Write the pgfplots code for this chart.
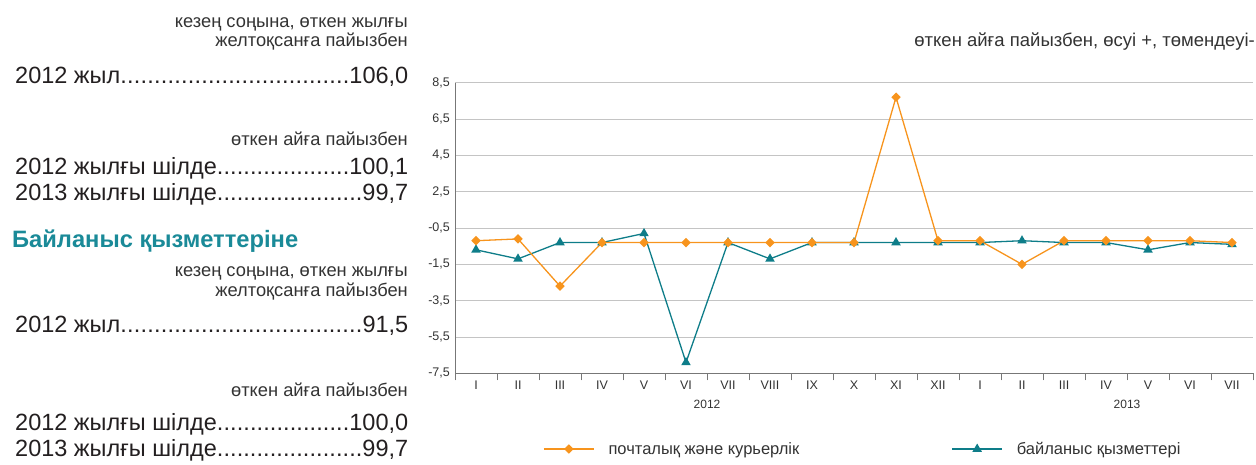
\documentclass[border=0pt]{standalone}
\usepackage{pgfplots}
\pgfplotsset{compat=1.18}
\usepackage{fontspec}
\setmainfont{Liberation Sans}
\definecolor{orng}{HTML}{F7941D}
\definecolor{tealc}{HTML}{0E7D89}
\definecolor{head}{HTML}{1A8A98}
\definecolor{txt}{HTML}{231F20}
\definecolor{txt2}{HTML}{333333}
\definecolor{axgray}{HTML}{777777}
\definecolor{gridgray}{HTML}{C4C4C4}
\newcommand{\fs}[1]{\fontsize{#1}{#1}\selectfont}
\newcommand{\dotline}[2]{\makebox[393pt][l]{#1\xleaders\hbox to 0.28em{\hss.\hss}\hfill#2}}
\begin{document}
\begin{tikzpicture}
\path[use as bounding box] (0,0) rectangle (1256pt,-464pt);
% left panel
\node[anchor=base east, font=\fs{18.3}, text=txt2, inner sep=0pt] at (408pt,-27.7pt) {кезең соңына, өткен жылғы};
\node[anchor=base east, font=\fs{18.3}, text=txt2, inner sep=0pt] at (408pt,-46.7pt) {желтоқсанға пайызбен};
\node[anchor=base west, font=\fs{23.5}, text=txt, inner sep=0pt] at (15pt,-83pt) {\dotline{2012 жыл}{106,0}};
\node[anchor=base east, font=\fs{18.3}, text=txt2, inner sep=0pt] at (408pt,-145.7pt) {өткен айға пайызбен};
\node[anchor=base west, font=\fs{23.5}, text=txt, inner sep=0pt] at (15pt,-174pt) {\dotline{2012 жылғы шілде}{100,1}};
\node[anchor=base west, font=\fs{23.5}, text=txt, inner sep=0pt] at (15pt,-200pt) {\dotline{2013 жылғы шілде}{99,7}};
\node[anchor=base west, font=\fs{23.7}\bfseries, text=head, inner sep=0pt] at (12pt,-247.3pt) {Байланыс қызметтеріне};
\node[anchor=base east, font=\fs{18.3}, text=txt2, inner sep=0pt] at (408pt,-276pt) {кезең соңына, өткен жылғы};
\node[anchor=base east, font=\fs{18.3}, text=txt2, inner sep=0pt] at (408pt,-296pt) {желтоқсанға пайызбен};
\node[anchor=base west, font=\fs{23.5}, text=txt, inner sep=0pt] at (15pt,-332.7pt) {\dotline{2012 жыл}{91,5}};
\node[anchor=base east, font=\fs{18.3}, text=txt2, inner sep=0pt] at (408pt,-396.7pt) {өткен айға пайызбен};
\node[anchor=base west, font=\fs{23.5}, text=txt, inner sep=0pt] at (15pt,-430.7pt) {\dotline{2012 жылғы шілде}{100,0}};
\node[anchor=base west, font=\fs{23.5}, text=txt, inner sep=0pt] at (15pt,-456pt) {\dotline{2013 жылғы шілде}{99,7}};
% title
\node[anchor=base east, font=\fs{18.5}, text=txt2, inner sep=0pt] at (1255pt,-46.7pt) {өткен айға пайызбен, өсуі +, төмендеуі-};
\begin{axis}[
  at={(455pt,-373.3pt)}, anchor=south west,
  scale only axis, width=798pt, height=290.6pt,
  xmin=-0.5, xmax=18.5, ymin=-7.5, ymax=8.5,
  axis x line*=bottom, axis y line*=left,
  axis line style={draw=axgray, line width=0.9pt, -},
  xtick={0,...,18},
  xticklabels={I,II,III,IV,V,VI,VII,VIII,IX,X,XI,XII,I,II,III,IV,V,VI,VII},
  minor xtick={-0.5,0.5,...,18.5},
  major tick length=0pt,
  minor tick length=7pt,
  tick align=outside,
  minor x tick style={draw=axgray, line width=0.9pt},
  ytick={-7.5,-5.5,-3.5,-1.5,0.5,2.5,4.5,6.5,8.5},
  yticklabels={{-7,5},{-5,5},{-3,5},{-1,5},{-0,5},{2,5},{4,5},{6,5},{8,5}},
  ymajorgrids, major grid style={draw=gridgray, line width=0.9pt},
  ticklabel style={font=\fs{12.5}, text=txt2},
  yticklabel style={inner sep=0pt, xshift=-5pt},
  xticklabel style={inner sep=0pt, yshift=-7pt},
  clip=false,
  legend columns=2,
  reverse legend,
  legend style={draw=none, fill=none, at={(0.1103,-0.2605)}, anchor=west,
    inner sep=0pt, font=\fs{16.5}, text=txt2,
    nodes={inner sep=0pt},
    /tikz/every odd column/.append style={column sep=14pt}},
  legend image code/.code={\draw[mark repeat=2,mark phase=2] plot coordinates {(0pt,0pt) (25pt,0pt) (50pt,0pt)};},
]
\addplot[color=tealc, line width=1.3pt, mark=triangle*, mark size=4.2pt, mark options={fill=tealc, draw=tealc}]
  coordinates {(0,-0.7) (1,-1.2) (2,-0.3) (3,-0.3) (4,0.2) (5,-6.9) (6,-0.3) (7,-1.2) (8,-0.3) (9,-0.3) (10,-0.3) (11,-0.3) (12,-0.3) (13,-0.2) (14,-0.3) (15,-0.3) (16,-0.7) (17,-0.3) (18,-0.4)};
\addlegendentry{байланыс қызметтері}
\addplot[color=orng, line width=1.3pt, mark=square*, mark size=2.7pt, mark options={fill=orng, draw=orng, rotate=45}]
  coordinates {(0,-0.2) (1,-0.1) (2,-2.7) (3,-0.3) (4,-0.3) (5,-0.3) (6,-0.3) (7,-0.3) (8,-0.3) (9,-0.3) (10,7.7) (11,-0.2) (12,-0.2) (13,-1.5) (14,-0.2) (15,-0.2) (16,-0.2) (17,-0.2) (18,-0.3)};
\addlegendentry{\makebox[343pt][l]{почталық және курьерлік}}
\node[font=\fs{12}, text=txt2, anchor=base] at (axis cs:5.5,-7.5) [yshift=-35pt] {2012};
\node[font=\fs{12}, text=txt2, anchor=base] at (axis cs:15.5,-7.5) [yshift=-35pt] {2013};
\end{axis}
\end{tikzpicture}
\end{document}
